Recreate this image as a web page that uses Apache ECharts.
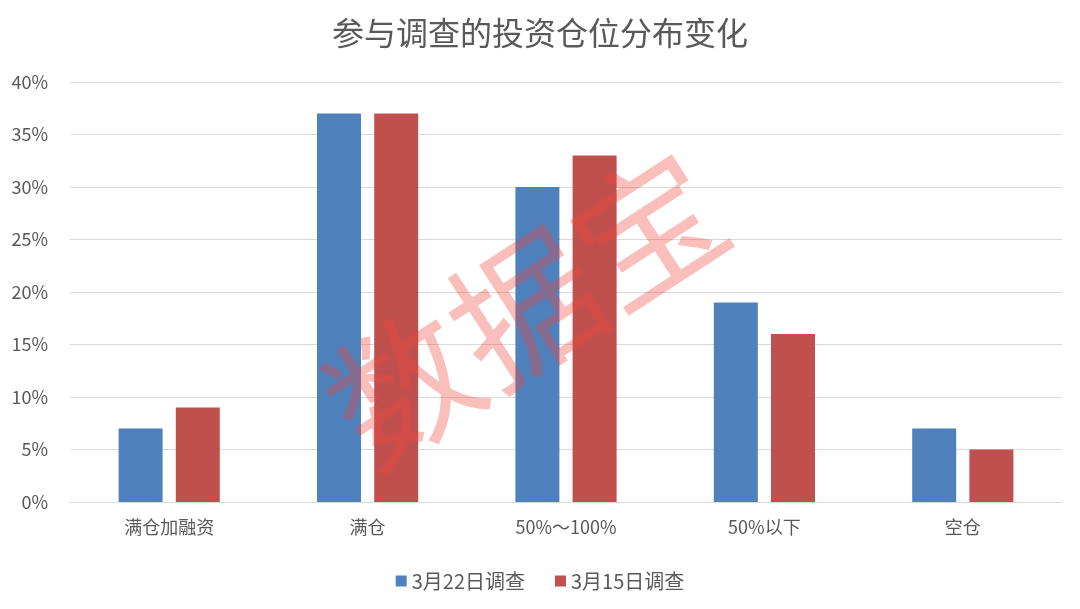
<!DOCTYPE html>
<html><head><meta charset="utf-8">
<script src="https://cdn.jsdelivr.net/npm/echarts@6/dist/echarts.min.js"></script>
<style>html,body{margin:0;padding:0;background:#fff}#c{width:1080px;height:609px}</style>
</head><body><div id="c"></div>
<script>
const categories = ['满仓加融资', '满仓', '50%～100%', '50%以下', '空仓'];
const series1Name = '3月22日调查';
const series1 = [7, 37, 30, 19, 7];
const series2Name = '3月15日调查';
const series2 = [9, 37, 33, 16, 5];
const font = '"Noto Sans CJK SC", "Open Sans", sans-serif';
const chart = echarts.init(document.getElementById('c'));
chart.setOption({
  animation: false,
  title: { text: '参与调查的投资仓位分布变化', left: 'center', top: 12,
    textStyle: { fontFamily: font, fontSize: 32, fontWeight: 'normal', color: '#595959' } },
  legend: { bottom: 13, left: 'center', itemWidth: 11, itemHeight: 11, itemGap: 30, icon: 'rect',
    textStyle: { fontFamily: font, fontSize: 20, color: '#595959' }, itemStyle: {borderWidth:0} },
  grid: { left: 70, right: 18, top: 82, bottom: 107 },
  xAxis: { type: 'category', data: categories,
    axisLine: { lineStyle: { color: '#d9d9d9', width: 1 } }, axisTick: { show: false },
    axisLabel: { fontFamily: font, fontSize: 18, color: '#595959', margin: 16 } },
  yAxis: { type: 'value', min: 0, max: 40, interval: 5,
    axisLine: { show: false }, axisTick: { show: false },
    splitLine: { lineStyle: { color: '#d9d9d9', width: 1 } },
    axisLabel: { formatter: '{value}%', fontFamily: font, fontSize: 18, color: '#595959', margin: 22 } },
  series: [
    { name: series1Name, type: 'bar', data: series1, barWidth: 44, barGap: '30%', itemStyle: { color: '#4F81BD' } },
    { name: series2Name, type: 'bar', data: series2, barWidth: 44, itemStyle: { color: '#C0504D' } }
  ],
  graphic: [{ type: 'text', x: 525, y: 308, rotation: 33 * Math.PI / 180, z: 100,
    style: { text: '数据宝', fontFamily: font, fontSize: 146, fill: 'rgba(240,70,60,0.35)',
      align: 'center', verticalAlign: 'middle' } }]
});
</script></body></html>
